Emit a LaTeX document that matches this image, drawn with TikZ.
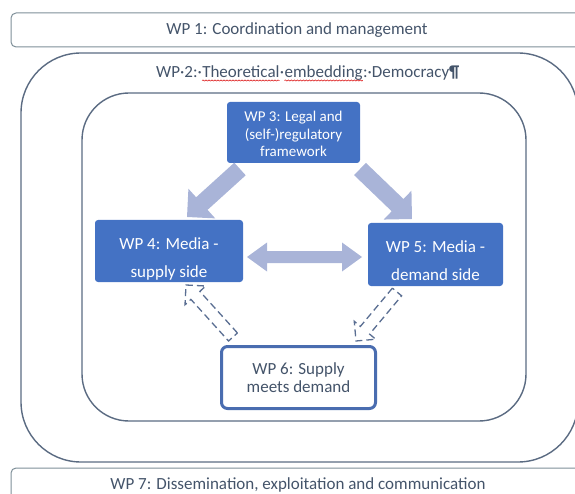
\documentclass[tikz,border=0pt]{standalone}
\usepackage{fontspec}
\setmainfont{Carlito}
\usepackage{tikz}
\usetikzlibrary{positioning}
\usetikzlibrary{calc}
\usetikzlibrary{decorations.pathmorphing}

\definecolor{wpblue}{HTML}{4472C4}
\definecolor{arrowblue}{HTML}{A9B4D8}
\definecolor{framegray}{HTML}{5B6B82}
\definecolor{bargray}{HTML}{7E8F98}
\definecolor{textslate}{HTML}{44546A}
\definecolor{dashblue}{HTML}{5A6E92}
\definecolor{sixblue}{HTML}{4A6DB0}

\tikzset{
  bar/.style={draw=bargray, line width=1pt, rounded corners=5pt},
  frame/.style={draw=framegray, line width=1.4pt},
  bartext/.style={text=textslate, font=\fontsize{17}{20}\selectfont},
  titletext/.style={text=textslate, font=\fontsize{17}{20}\selectfont, inner sep=0pt},
  spell/.style={draw=red!85!black, line width=0.5pt, decorate,
    decoration={snake, amplitude=0.6pt, segment length=3pt}},
  wpbox/.style={fill=wpblue, rounded corners=3pt, inner sep=0pt},
  boxtext/.style={text=white, align=center, font=\fontsize{17}{28}\selectfont},
  wpsix/.style={draw=sixblue, line width=3pt, fill=white, rounded corners=6pt,
    text=textslate, align=center, font=\fontsize{17}{18.5}\selectfont},
  light/.style={fill=arrowblue},
  hollow/.style={draw=dashblue, line width=1.3pt, dash pattern=on 7pt off 4pt}
}

% block arrow: [style]{from}{to}{half shaft}{half head}{head length}
\newcommand{\blockarrow}[6][]{%
  \path[#1] let \p1=($(#3)-(#2)$), \n1={atan2(\y1,\x1)}, \n2={veclen(\x1,\y1)} in
    [shift={(#2)}, rotate=\n1]
    (0,#4) -- (\n2-#6,#4) -- (\n2-#6,#5) -- (\n2,0) -- (\n2-#6,-#5)
    -- (\n2-#6,-#4) -- (0,-#4) -- cycle;}
% same, with a head at both ends
\newcommand{\dblblockarrow}[6][]{%
  \path[#1] let \p1=($(#3)-(#2)$), \n1={atan2(\y1,\x1)}, \n2={veclen(\x1,\y1)} in
    [shift={(#2)}, rotate=\n1]
    (0,0) -- (#6,#5) -- (#6,#4) -- (\n2-#6,#4) -- (\n2-#6,#5) -- (\n2,0)
    -- (\n2-#6,-#5) -- (\n2-#6,-#4) -- (#6,-#4) -- (#6,-#5) -- cycle;}

\begin{document}
\begin{tikzpicture}[x=1pt, y=-1pt]
  \useasboundingbox (0,0) rectangle (575,494);
  \clip (0,0) rectangle (575,494);

  % WP 1 and WP 7 bars
  \draw[bar] (11,13) rectangle (600,47);
  \node[bartext] (wp1) at (297,30) {WP 1: Coordination and management};
  \draw[bar] (11,468) rectangle (600,520);
  \node[bartext] (wp7) at (298,485) {WP 7: Dissemination, exploitation and communication};

  % WP 2 frames
  \draw[frame, rounded corners=60pt] (21,53) rectangle (578,462);
  \draw[frame, rounded corners=47pt] (82,93) rectangle (526,421);

  \node[titletext, anchor=base west] (wp2a) at (156,78) {WP·2:·};
  \node[titletext, base right=0pt of wp2a] (theo) {Theoretical};
  \node[titletext, base right=0pt of theo] (wp2b) {·};
  \node[titletext, base right=0pt of wp2b] (embed) {embedding};
  \node[titletext, base right=0pt of embed] (wp2c) {:·Democracy\textbf{¶}};
  \draw[spell] ([yshift=-2.5pt]theo.base west) -- ([yshift=-2.5pt]theo.base east);
  \draw[spell] ([yshift=-2.5pt]embed.base west) -- ([yshift=-2.5pt]embed.base east);

  % work packages
  \node[wpbox, minimum width=133pt, minimum height=61pt] (wp3) at (293.5,132.5) {};
  \node[boxtext, font=\fontsize{15}{17.5}\selectfont] (wp3t) at ([yshift=-1.5pt]wp3.center)
    {WP 3: Legal and\\(self-)regulatory\\framework};
  \node[wpbox, minimum width=148pt, minimum height=62pt] (wp4) at (169,251) {};
  \node[boxtext] (wp4t) at ([yshift=-8pt]wp4.center) {WP 4: Media -\\supply side};
  \node[wpbox, minimum width=135pt, minimum height=63pt] (wp5) at (435.5,254.5) {};
  \node[boxtext] (wp5t) at ([yshift=-6.5pt]wp5.center) {WP 5: Media -\\demand side};
  \node[wpsix, minimum width=154pt, minimum height=62pt] (wp6) at (298.5,377.5)
    {WP 6: Supply\\meets demand};

  % arrows
  \coordinate (l3) at (240,169);
  \coordinate (l4) at (187,217);
  \coordinate (r3) at (360,169);
  \coordinate (r5) at (412,219);
  \coordinate (d4) at (247,257);
  \coordinate (d5) at (362,257);
  \coordinate (h6l) at (233,337);
  \coordinate (h4) at (186,285);
  \coordinate (h5) at (397,292);
  \coordinate (h6r) at (356,341);

  \blockarrow[light]{l3}{l4}{8.5}{20}{20}
  \blockarrow[light]{r3}{r5}{8.5}{20}{20}
  \dblblockarrow[light]{d4}{d5}{6}{14.5}{20}
  \blockarrow[hollow]{h6l}{h4}{6}{14}{14}
  \blockarrow[hollow]{h5}{h6r}{6}{14}{14}
\end{tikzpicture}
\end{document}
